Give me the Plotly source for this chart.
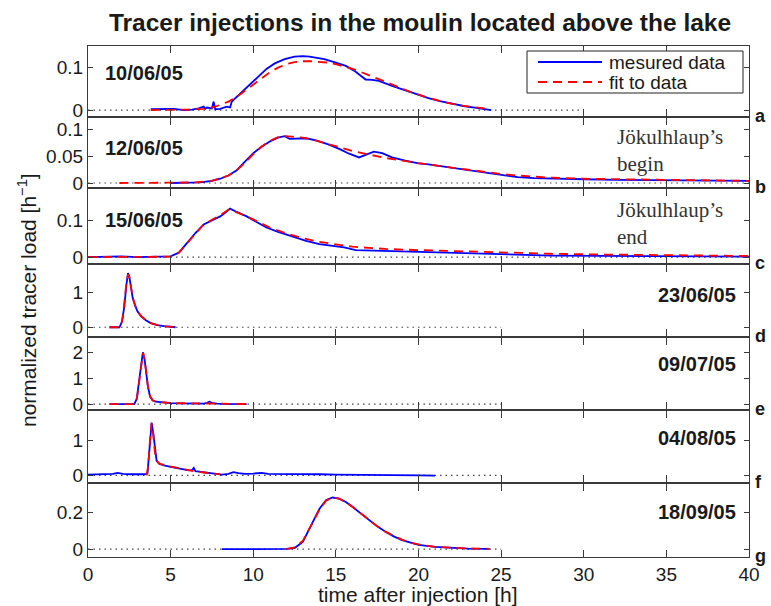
import plotly.graph_objects as go
from plotly.subplots import make_subplots

# ---------------- data ----------------
panel_letters = ["a", "b", "c", "d", "e", "f", "g"]
panel_dates = ["10/06/05", "12/06/05", "15/06/05", "23/06/05", "09/07/05", "04/08/05", "18/09/05"]
series_names = ["mesured data", "fit to data"]

a_meas_t = [3.8, 4.5, 5.2, 5.8, 6.3, 6.7, 7.0, 7.1, 7.2, 7.5, 7.6, 7.7, 8.0, 8.4, 8.6, 8.7, 9.2, 9.8, 10.4, 10.8, 11.3, 11.9, 12.5, 13.0, 13.4, 14.3, 15.0, 15.6, 16.1, 16.5, 16.8, 17.2, 17.6, 18.4, 19.2, 19.9, 20.6, 21.3, 22.0, 22.8, 23.4, 23.8, 24.1, 24.4]
a_meas_y = [0.002, 0.002, 0.003, 0.0, 0.001, 0.004, 0.008, 0.003, 0.006, 0.004, 0.02, 0.002, 0.003, 0.008, 0.006, 0.02, 0.038, 0.06, 0.083, 0.097, 0.11, 0.12, 0.126, 0.127, 0.126, 0.12, 0.112, 0.104, 0.093, 0.08, 0.072, 0.071, 0.069, 0.057, 0.046, 0.036, 0.028, 0.021, 0.015, 0.009, 0.006, 0.004, 0.002, 0.0]
a_fit_t = [3.8, 5.0, 6.0, 7.0, 7.5, 8.0, 8.5, 9.0, 9.5, 10.0, 10.5, 11.0, 11.5, 12.0, 12.5, 13.0, 13.5, 14.0, 14.5, 15.0, 15.5, 16.0, 16.5, 17.0, 17.5, 18.0, 18.5, 19.5, 20.5, 21.5, 22.5, 23.5, 24.0]
a_fit_y = [0.0, 0.0, 0.001, 0.003, 0.006, 0.012, 0.02, 0.031, 0.045, 0.06, 0.075, 0.089, 0.1, 0.108, 0.113, 0.115, 0.115, 0.114, 0.112, 0.108, 0.103, 0.097, 0.09, 0.082, 0.074, 0.066, 0.058, 0.043, 0.03, 0.019, 0.011, 0.006, 0.004]

b_meas_t = [5.0, 6.0, 6.8, 7.5, 8.0, 8.5, 9.0, 9.5, 10.0, 10.5, 11.0, 11.5, 11.9, 12.2, 12.6, 13.2, 13.8, 14.5, 15.2, 15.8, 16.4, 16.9, 17.3, 17.8, 18.4, 19.2, 20.0, 20.6, 21.5, 22.5, 23.5, 24.9, 26.0, 27.0, 28.0, 30.0, 32.0, 35.0, 38.0, 40.0]
b_meas_y = [0.0, 0.0, 0.001, 0.004, 0.008, 0.014, 0.024, 0.04, 0.056, 0.068, 0.078, 0.085, 0.088, 0.083, 0.083, 0.084, 0.08, 0.073, 0.064, 0.055, 0.048, 0.054, 0.059, 0.056, 0.048, 0.042, 0.037, 0.035, 0.031, 0.026, 0.021, 0.015, 0.011, 0.009, 0.008, 0.007, 0.006, 0.005, 0.004, 0.004]
b_fit_t = [1.9, 5.0, 6.5, 7.5, 8.5, 9.0, 9.5, 10.0, 10.5, 11.0, 11.5, 12.0, 12.5, 13.0, 13.5, 14.0, 15.0, 16.0, 17.0, 18.0, 19.0, 20.0, 21.0, 22.0, 23.0, 24.0, 25.0, 26.0, 27.0, 28.0, 30.0, 32.0, 35.0, 38.0, 40.0]
b_fit_y = [0.0, 0.0, 0.001, 0.004, 0.014, 0.024, 0.038, 0.054, 0.068, 0.079, 0.086, 0.088, 0.087, 0.085, 0.082, 0.078, 0.069, 0.06, 0.053, 0.047, 0.042, 0.037, 0.033, 0.029, 0.025, 0.02, 0.017, 0.014, 0.012, 0.01, 0.008, 0.007, 0.006, 0.005, 0.004]

c_meas_t = [0.0, 1.0, 2.0, 3.0, 4.0, 5.0, 5.5, 6.0, 6.5, 7.0, 7.5, 8.0, 8.3, 8.6, 9.0, 9.6, 10.2, 10.8, 11.5, 12.4, 13.2, 14.0, 14.8, 15.5, 16.2, 17.0, 18.0, 19.0, 20.0, 22.0, 24.0, 26.0, 28.0, 31.0, 35.0, 40.0]
c_meas_y = [0.0, 0.001, 0.002, 0.0, 0.0, 0.002, 0.012, 0.04, 0.065, 0.088, 0.1, 0.11, 0.12, 0.131, 0.122, 0.11, 0.095, 0.08, 0.068, 0.055, 0.044, 0.035, 0.031, 0.026, 0.019, 0.018, 0.018, 0.016, 0.015, 0.012, 0.009, 0.006, 0.004, 0.003, 0.002, 0.001]
c_fit_t = [0.0, 5.0, 5.5, 6.0, 6.5, 7.0, 7.5, 8.0, 8.5, 9.0, 9.6, 10.2, 11.0, 12.0, 13.0, 14.0, 15.0, 16.0, 17.0, 18.0, 20.0, 22.0, 24.0, 26.0, 28.0, 31.0, 35.0, 40.0]
c_fit_y = [0.0, 0.001, 0.012, 0.038, 0.064, 0.088, 0.101, 0.113, 0.128, 0.121, 0.11, 0.097, 0.08, 0.064, 0.051, 0.041, 0.034, 0.028, 0.025, 0.022, 0.019, 0.016, 0.013, 0.011, 0.009, 0.007, 0.005, 0.003]

d_meas_t = [1.3, 1.9, 2.05, 2.2, 2.32, 2.42, 2.5, 2.6, 2.7, 2.85, 3.0, 3.2, 3.5, 3.8, 4.2, 4.6, 5.0, 5.3]
d_meas_y = [0.0, 0.0, 0.15, 0.6, 1.2, 1.55, 1.45, 1.15, 0.85, 0.62, 0.45, 0.32, 0.2, 0.12, 0.06, 0.03, 0.01, 0.0]
d_fit_t = [1.3, 1.95, 2.1, 2.22, 2.33, 2.43, 2.52, 2.62, 2.72, 2.88, 3.05, 3.25, 3.55, 3.85, 4.25, 4.7, 5.3]
d_fit_y = [0.0, 0.0, 0.25, 0.75, 1.3, 1.52, 1.4, 1.1, 0.82, 0.6, 0.43, 0.3, 0.19, 0.11, 0.055, 0.025, 0.008]

e_meas_t = [1.3, 2.8, 2.95, 3.1, 3.22, 3.32, 3.42, 3.52, 3.62, 3.75, 3.9, 4.1, 4.5, 5.0, 5.5, 6.0, 6.5, 7.0, 7.2, 7.35, 7.5, 7.8, 8.2, 9.0, 9.6]
e_meas_y = [0.0, 0.0, 0.2, 0.9, 1.6, 2.0, 1.75, 1.2, 0.7, 0.3, 0.15, 0.09, 0.06, 0.04, 0.03, 0.03, 0.02, 0.02, 0.05, 0.09, 0.05, 0.02, 0.01, 0.0, 0.0]
e_fit_t = [1.3, 2.82, 2.97, 3.12, 3.24, 3.33, 3.43, 3.53, 3.64, 3.78, 3.95, 4.2, 4.6, 5.2, 6.0, 7.0, 8.0, 9.0, 9.6]
e_fit_y = [0.0, 0.0, 0.25, 1.0, 1.7, 1.98, 1.7, 1.15, 0.62, 0.27, 0.13, 0.08, 0.055, 0.04, 0.03, 0.02, 0.012, 0.005, 0.003]

f_meas_t = [0.0, 0.5, 1.0, 1.5, 1.8, 2.1, 2.6, 3.0, 3.4, 3.6, 3.7, 3.8, 3.85, 3.95, 4.05, 4.15, 4.3, 4.6, 5.0, 5.4, 5.8, 6.1, 6.3, 6.4, 6.5, 6.9, 7.3, 7.7, 8.1, 8.5, 8.8, 9.1, 9.5, 10.0, 10.5, 10.9, 11.5, 12.0, 13.0, 14.0, 15.0, 16.0, 17.0, 18.0, 19.0, 20.0, 21.0]
f_meas_y = [0.02, 0.03, 0.02, 0.04, 0.07, 0.04, 0.03, 0.02, 0.03, 0.05, 0.6, 1.3, 1.5, 1.2, 0.7, 0.42, 0.33, 0.28, 0.24, 0.2, 0.16, 0.14, 0.15, 0.21, 0.12, 0.09, 0.06, 0.04, 0.02, 0.04, 0.09, 0.06, 0.04, 0.05, 0.07, 0.04, 0.04, 0.05, 0.03, 0.03, 0.02, 0.02, 0.01, 0.01, 0.0, 0.0, -0.01]
f_fit_t = [3.55, 3.65, 3.75, 3.85, 3.95, 4.05, 4.15, 4.3, 4.6, 5.0, 5.5, 6.0, 6.5, 7.0, 7.5, 8.0]
f_fit_y = [0.0, 0.3, 1.0, 1.48, 1.15, 0.65, 0.42, 0.34, 0.29, 0.25, 0.2, 0.15, 0.11, 0.08, 0.05, 0.03]

g_meas_t = [8.1, 9.0, 10.0, 11.0, 12.0, 12.5, 13.0, 13.5, 14.0, 14.4, 14.8, 15.2, 15.6, 16.0, 16.5, 17.0, 17.5, 18.0, 18.5, 19.0, 19.5, 20.0, 21.0, 22.0, 23.0, 24.3]
g_meas_y = [0.0, 0.0, 0.0, 0.0, 0.001, 0.006, 0.04, 0.13, 0.22, 0.268, 0.283, 0.277, 0.258, 0.232, 0.195, 0.158, 0.125, 0.095, 0.07, 0.05, 0.035, 0.024, 0.012, 0.006, 0.003, 0.002]
g_fit_t = [12.0, 12.5, 13.0, 13.5, 14.0, 14.4, 14.8, 15.2, 15.6, 16.0, 16.5, 17.0, 17.5, 18.0, 18.5, 19.0, 19.5, 20.0, 21.0, 22.0, 23.0, 24.3]
g_fit_y = [0.0, 0.01, 0.045, 0.13, 0.215, 0.265, 0.283, 0.277, 0.258, 0.232, 0.196, 0.16, 0.126, 0.096, 0.072, 0.052, 0.037, 0.026, 0.013, 0.007, 0.004, 0.002]

zero_line_end = [30, 40, 40, 25, 25, 25, 25]
y_tick_values = [[0, 0.1], [0, 0.05, 0.1], [0, 0.1], [0, 1], [0, 1, 2], [0, 1], [0, 0.2]]
y_ranges = [[-0.014, 0.151], [-0.0075, 0.122], [-0.016, 0.184], [-0.25, 1.78], [-0.19, 2.55], [-0.19, 1.83], [-0.043, 0.357]]
x_tick_values = [0, 5, 10, 15, 20, 25, 30, 35, 40]

meas = [(a_meas_t, a_meas_y), (b_meas_t, b_meas_y), (c_meas_t, c_meas_y), (d_meas_t, d_meas_y),
        (e_meas_t, e_meas_y), (f_meas_t, f_meas_y), (g_meas_t, g_meas_y)]
fits = [(a_fit_t, a_fit_y), (b_fit_t, b_fit_y), (c_fit_t, c_fit_y), (d_fit_t, d_fit_y),
        (e_fit_t, e_fit_y), (f_fit_t, f_fit_y), (g_fit_t, g_fit_y)]

# ---------------- layout geometry (pixels) ----------------
W, H = 771, 606
L, R, T, B = 88, 22, 46, 49
PW, PH = W - L - R, H - T - B
bounds_px = [46, 117, 188, 264, 337, 410, 483, 557]

def px_x(px):
    return (px - L) / PW

def px_y(py):
    return (H - B - py) / PH

FONT = "Liberation Sans, Arial, Helvetica, sans-serif"
AXC = "#3a3a3a"
TXT = "#1a1a1a"
BLUE = "#0000ff"
RED = "#ff0000"
RED_DASH = "9px,6px"

fig = make_subplots(rows=7, cols=1, shared_xaxes=True, vertical_spacing=0.0)

for i in range(7):
    r = i + 1
    fig.add_trace(go.Scatter(x=[0, zero_line_end[i]], y=[0, 0], mode="lines",
                             line=dict(color="#444444", width=1.2, dash="1.5px,4px"),
                             showlegend=False, hoverinfo="skip"), row=r, col=1)
    mt, my = meas[i]
    fig.add_trace(go.Scatter(x=mt, y=my, mode="lines", name=series_names[0],
                             line=dict(color=BLUE, width=1.8), showlegend=False),
                  row=r, col=1)
    ft, fy = fits[i]
    fig.add_trace(go.Scatter(x=ft, y=fy, mode="lines", name=series_names[1],
                             line=dict(color=RED, width=1.8, dash=RED_DASH), showlegend=False),
                  row=r, col=1)

for i in range(7):
    r = i + 1
    top = px_y(bounds_px[i]) - (0.0 if i == 0 else 1.0 / PH)
    bot = px_y(bounds_px[i + 1]) + (0.0 if i == 6 else 1.0 / PH)
    fig.update_yaxes(row=r, col=1, domain=[bot, top], range=y_ranges[i],
                     tickvals=y_tick_values[i], ticks="inside", ticklen=5,
                     tickcolor=AXC, showline=True, linecolor=AXC, linewidth=1.2,
                     mirror="ticks", showgrid=False, zeroline=False,
                     tickfont=dict(family=FONT, size=19, color=TXT))
    fig.update_xaxes(row=r, col=1, range=[0, 40], tickvals=x_tick_values,
                     ticks="inside", ticklen=7, tickcolor=AXC, showline=True,
                     linecolor=AXC, linewidth=1.2, mirror="ticks", showgrid=False,
                     zeroline=False, tickfont=dict(family=FONT, size=19, color=TXT))

annotations = []
shapes = []
# date labels
date_pos = [(103, 73, "left"), (103, 148, "left"), (103, 220, "left"),
            (738, 295, "right"), (738, 364, "right"), (738, 438, "right"), (738, 512, "right")]
for (px, py, al), txt in zip(date_pos, panel_dates):
    annotations.append(dict(x=px_x(px), y=px_y(py), xref="paper", yref="paper",
                            text="<b>%s</b>" % txt, showarrow=False, xanchor=al,
                            yanchor="middle", font=dict(family=FONT, size=20, color=TXT)))
# panel letters
for i, lt in enumerate(panel_letters):
    annotations.append(dict(x=px_x(753), y=px_y(bounds_px[i + 1] - 1), xref="paper", yref="paper",
                            text="<b>%s</b>" % lt, showarrow=False, xanchor="left",
                            yanchor="middle", font=dict(family=FONT, size=18, color=TXT)))
# Jokulhlaup notes
SERIF = "Liberation Serif, DejaVu Serif, serif"
annotations.append(dict(x=px_x(615), y=px_y(150), xref="paper", yref="paper",
                        text="Jökulhlaup’s<br>begin", showarrow=False, xanchor="left",
                        yanchor="middle", align="left",
                        font=dict(family=SERIF, size=21, color="#333333")))
annotations.append(dict(x=px_x(615), y=px_y(223), xref="paper", yref="paper",
                        text="Jökulhlaup’s<br>end", showarrow=False, xanchor="left",
                        yanchor="middle", align="left",
                        font=dict(family=SERIF, size=21, color="#333333")))
# axis titles
annotations.append(dict(x=px_x(27), y=px_y(300), xref="paper", yref="paper",
                        text="normalized tracer load [h<sup>−1</sup>]", showarrow=False,
                        textangle=-90, xanchor="center", yanchor="middle",
                        font=dict(family=FONT, size=21, color=TXT)))
annotations.append(dict(x=px_x(418), y=px_y(594), xref="paper", yref="paper",
                        text="time after injection [h]", showarrow=False,
                        xanchor="center", yanchor="middle",
                        font=dict(family=FONT, size=21, color=TXT)))

# legend box (compact, drawn in paper space)
shapes.append(dict(type="rect", xref="paper", yref="paper",
                   x0=px_x(527), x1=px_x(743), y0=px_y(93), y1=px_y(51),
                   line=dict(color="#222222", width=1), fillcolor="white", layer="above"))
legend_rows = [(62, BLUE, "solid"), (82, RED, RED_DASH)]
for (py, col, dash), name in zip(legend_rows, series_names):
    shapes.append(dict(type="line", xref="paper", yref="paper",
                       x0=px_x(538), x1=px_x(602), y0=px_y(py), y1=px_y(py),
                       line=dict(color=col, width=1.8, dash=dash), layer="above"))
    annotations.append(dict(x=px_x(607), y=px_y(py), xref="paper", yref="paper",
                            text=name, showarrow=False, xanchor="left", yanchor="middle",
                            font=dict(family=FONT, size=19, color=TXT)))

fig.update_layout(
    width=W, height=H,
    margin=dict(l=L, r=R, t=T, b=B),
    paper_bgcolor="white", plot_bgcolor="white",
    title=dict(text="<b>Tracer injections in the moulin located above the lake</b>",
               x=px_x(420), xref="paper", xanchor="center",
               y=1 - 22 / H, yref="container", yanchor="middle",
               font=dict(family=FONT, size=24.5, color=TXT)),
    annotations=annotations,
    shapes=shapes,
    showlegend=False,
)

fig.write_html("out.html", config={"displayModeBar": False},
               post_script="document.body.style.margin='0px';")
